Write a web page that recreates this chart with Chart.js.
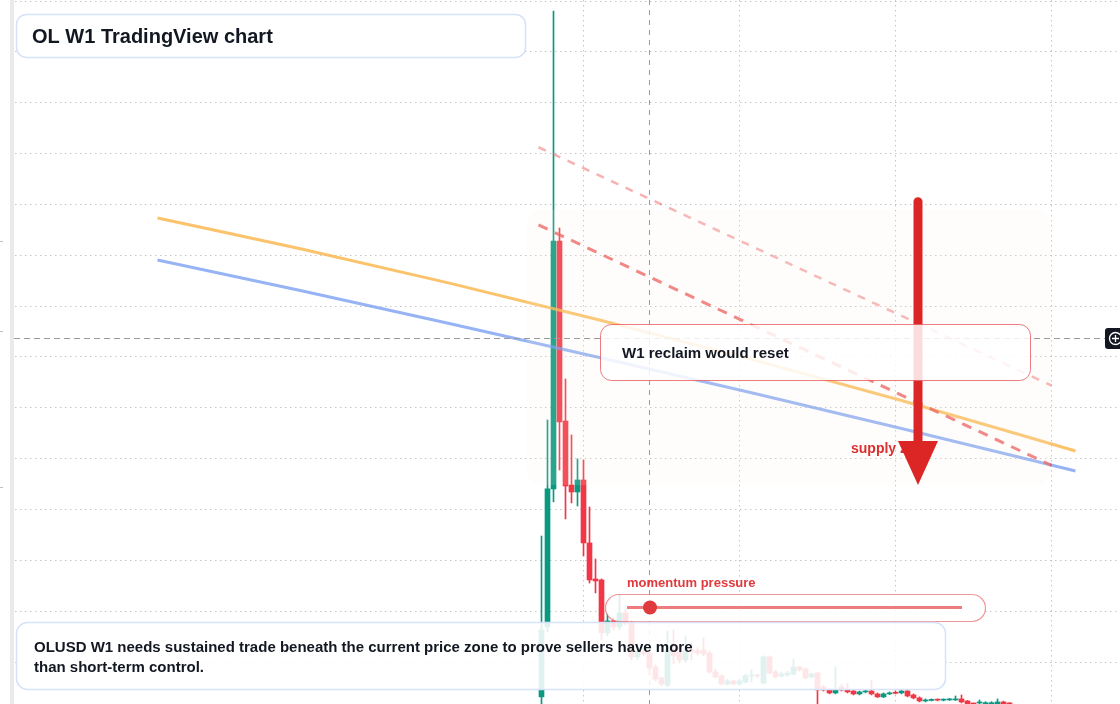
<!DOCTYPE html>
<html><head><meta charset="utf-8">
<script src="https://cdn.jsdelivr.net/npm/chart.js@4.4.1/dist/chart.umd.min.js"></script>
<style>html,body{margin:0;padding:0;background:#fff;overflow:hidden}#wrap{position:relative;width:1120px;height:704px}</style>
</head><body><div id="wrap"><canvas id="c" width="1120" height="704"></canvas></div>
<script>
// ---- weekly OHLC (OLUSD W1), candle index = week number ----
const OPEN  = [0.0157,0.0845,0.2202,0.4640,0.2870,0.2241,0.2172,0.2290,0.1671,0.1317,0.1307,0.0786,0.0904,0.0845,0.0982,0.0884,0.0550,0.0599,0.0589,0.0451,0.0343,0.0274,0.0618,0.0600,0.0520,0.0618,0.0610,0.0618,0.0589,0.0402,0.0363,0.0284,0.0314,0.0284,0.0304,0.0363,0.0373,0.0294,0.0550,0.0402,0.0363,0.0373,0.0382,0.0451,0.0432,0.0353,0.0392,0.0255,0.0225,0.0196,0.0255,0.0225,0.0215,0.0186,0.0206,0.0215,0.0186,0.0157,0.0186,0.0200,0.0196,0.0215,0.0176,0.0147,0.0117,0.0122,0.0132,0.0125,0.0127,0.0127,0.0137,0.0117,0.0092,0.0097,0.0090,0.0090,0.0087,0.0107,0.0095];
const HIGH  = [0.1739,0.2880,0.6902,0.4768,0.3283,0.2733,0.2497,0.2487,0.2024,0.1513,0.1317,0.0982,0.0933,0.1159,0.1012,0.0904,0.0648,0.0630,0.0618,0.0471,0.0353,0.0805,0.0815,0.0660,0.0756,0.0687,0.0640,0.0736,0.0610,0.0432,0.0373,0.0330,0.0320,0.0330,0.0382,0.0422,0.0382,0.0560,0.0560,0.0420,0.0402,0.0410,0.0530,0.0460,0.0440,0.0392,0.0402,0.0270,0.0240,0.0451,0.0280,0.0294,0.0225,0.0215,0.0225,0.0323,0.0196,0.0196,0.0206,0.0215,0.0225,0.0225,0.0186,0.0157,0.0137,0.0137,0.0137,0.0137,0.0142,0.0166,0.0176,0.0122,0.0097,0.0127,0.0110,0.0110,0.0137,0.0115,0.0100];
const LOW   = [0.0050,0.0800,0.2074,0.2388,0.1907,0.2064,0.2034,0.1543,0.1277,0.1179,0.0717,0.0756,0.0815,0.0815,0.0865,0.0520,0.0520,0.0560,0.0373,0.0314,0.0265,0.0255,0.0481,0.0491,0.0500,0.0520,0.0570,0.0560,0.0390,0.0343,0.0274,0.0274,0.0274,0.0274,0.0294,0.0304,0.0343,0.0284,0.0382,0.0343,0.0353,0.0360,0.0373,0.0410,0.0333,0.0343,0.0050,0.0215,0.0186,0.0186,0.0215,0.0196,0.0176,0.0176,0.0196,0.0176,0.0150,0.0150,0.0180,0.0186,0.0186,0.0157,0.0137,0.0107,0.0107,0.0117,0.0117,0.0117,0.0122,0.0122,0.0097,0.0080,0.0080,0.0087,0.0085,0.0085,0.0080,0.0085,0.0080];
const CLOSE = [0.0815,0.2202,0.4640,0.2860,0.2231,0.2172,0.2290,0.1671,0.1307,0.1297,0.0786,0.0904,0.0845,0.0982,0.0884,0.0550,0.0599,0.0580,0.0441,0.0333,0.0284,0.0618,0.0560,0.0520,0.0618,0.0600,0.0590,0.0580,0.0402,0.0353,0.0284,0.0314,0.0284,0.0314,0.0363,0.0373,0.0363,0.0550,0.0392,0.0353,0.0382,0.0392,0.0451,0.0422,0.0343,0.0382,0.0225,0.0225,0.0196,0.0225,0.0225,0.0206,0.0186,0.0206,0.0215,0.0186,0.0157,0.0186,0.0196,0.0192,0.0215,0.0166,0.0147,0.0117,0.0127,0.0132,0.0125,0.0132,0.0132,0.0132,0.0107,0.0087,0.0087,0.0107,0.0100,0.0100,0.0107,0.0090,0.0088];

// moving-average style curves (week index, price)
const MA_X      = [-64, -40, -15, 10, 35, 60, 89];
const MA_ORANGE = [0.4866, 0.4562, 0.4221, 0.3859, 0.3476, 0.3072, 0.2575];
const MA_BLUE   = [0.4453, 0.4151, 0.3824, 0.3490, 0.3148, 0.2797, 0.2379];

// dashed descending trend lines
const TREND_X     = [-0.5, 85];
const TREND_UPPER = [0.5562, 0.3219];
const TREND_LOWER = [0.4798, 0.2433];

// supply zone, arrow, crosshair
const ZONE_X = [-2.4, 84.75];
const ZONE_Y = [0.2241, 0.4945];
const ARROW_X = 62.75;
const ARROW_FROM = 0.5027;
const ARROW_TO = 0.2241;
const CROSS_X = 17.9;
const CROSS_Y = 0.3686;

// axis ticks (grid)
const GRID_PRICES = [0.05,0.10,0.15,0.20,0.25,0.30,0.35,0.40,0.45,0.50,0.55,0.60,0.65,0.70];
const TIME_TICKS = [7, 33, 59, 85];

const UP = '#089981', DOWN = '#f23645';
const WEEKS = OPEN.map((_, i) => i);
const colors = WEEKS.map(i => CLOSE[i] >= OPEN[i] ? UP : DOWN);

const FONT = '"Liberation Sans", Arial, Helvetica, sans-serif';

function rr(ctx, x, y, w, h, r) {
  ctx.beginPath();
  ctx.moveTo(x + r, y);
  ctx.lineTo(x + w - r, y);
  ctx.arcTo(x + w, y, x + w, y + r, r);
  ctx.lineTo(x + w, y + h - r);
  ctx.arcTo(x + w, y + h, x + w - r, y + h, r);
  ctx.lineTo(x + r, y + h);
  ctx.arcTo(x, y + h, x, y + h - r, r);
  ctx.lineTo(x, y + r);
  ctx.arcTo(x, y, x + r, y, r);
  ctx.closePath();
}

const overlay = {
  id: 'overlay',
  afterDatasetsDraw(chart) {
    const ctx = chart.ctx, xs = chart.scales.x, ys = chart.scales.y;
    ctx.save();
    // supply zone tint
    const zx0 = xs.getPixelForValue(ZONE_X[0]), zx1 = xs.getPixelForValue(ZONE_X[1]);
    const zy0 = ys.getPixelForValue(ZONE_Y[1]), zy1 = ys.getPixelForValue(ZONE_Y[0]);
    rr(ctx, zx0, zy0, zx1 - zx0, zy1 - zy0, 14);
    ctx.fillStyle = 'rgba(250,238,228,0.14)';
    ctx.fill();

    // crosshair
    const cx = Math.round(xs.getPixelForValue(CROSS_X)) + 0.5;
    const cy = Math.round(ys.getPixelForValue(CROSS_Y)) + 0.5;
    ctx.strokeStyle = '#9a9a9a'; ctx.lineWidth = 1; ctx.setLineDash([6, 4]);
    ctx.beginPath(); ctx.moveTo(14, cy); ctx.lineTo(1105, cy); ctx.stroke();
    ctx.setLineDash([5, 5]);
    ctx.beginPath(); ctx.moveTo(cx, 0); ctx.lineTo(cx, 704); ctx.stroke();
    ctx.setLineDash([]);

    // supply zone label
    ctx.fillStyle = '#dc2f2f';
    ctx.font = 'bold 14px ' + FONT;
    ctx.textBaseline = 'middle'; ctx.textAlign = 'left';
    ctx.fillText('supply zone', 851, 449);

    // arrow
    const ax = xs.getPixelForValue(ARROW_X);
    const ay0 = ys.getPixelForValue(ARROW_FROM), ay1 = ys.getPixelForValue(ARROW_TO);
    ctx.strokeStyle = '#dc2626'; ctx.fillStyle = '#dc2626';
    ctx.lineWidth = 9; ctx.lineCap = 'round';
    ctx.beginPath(); ctx.moveTo(ax, ay0); ctx.lineTo(ax, ay1 - 40); ctx.stroke();
    ctx.lineCap = 'butt';
    ctx.beginPath(); ctx.moveTo(ax - 20, ay1 - 44); ctx.lineTo(ax + 20, ay1 - 44); ctx.lineTo(ax, ay1); ctx.closePath(); ctx.fill();

    // W1 reclaim box
    rr(ctx, 600.5, 324.5, 430, 56, 11);
    ctx.fillStyle = 'rgba(255,255,255,0.84)'; ctx.fill();
    ctx.strokeStyle = 'rgba(232,80,84,0.75)'; ctx.lineWidth = 1; ctx.stroke();
    ctx.fillStyle = '#131722'; ctx.font = 'bold 15px ' + FONT;
    ctx.fillText('W1 reclaim would reset', 622, 354);

    // momentum pressure widget
    ctx.fillStyle = '#e03a3e'; ctx.font = 'bold 13px ' + FONT;
    ctx.fillText('momentum pressure', 627, 583);
    rr(ctx, 605.5, 594.5, 380, 27, 13.5);
    ctx.fillStyle = 'rgba(255,255,255,0.85)'; ctx.fill();
    ctx.strokeStyle = 'rgba(232,80,84,0.6)'; ctx.lineWidth = 1.2; ctx.stroke();
    ctx.strokeStyle = 'rgba(232,80,84,0.75)'; ctx.lineWidth = 3;
    ctx.beginPath(); ctx.moveTo(627, 607.5); ctx.lineTo(962, 607.5); ctx.stroke();
    ctx.fillStyle = '#e03a3e';
    ctx.beginPath(); ctx.arc(650, 607.5, 7, 0, Math.PI * 2); ctx.fill();

    // bottom note
    rr(ctx, 16.5, 622.5, 929, 67, 11);
    ctx.fillStyle = 'rgba(255,255,255,0.87)'; ctx.fill();
    ctx.strokeStyle = '#d5e2fa'; ctx.lineWidth = 1.5; ctx.stroke();
    ctx.fillStyle = '#131722'; ctx.font = 'bold 15px ' + FONT;
    ctx.fillText('OLUSD W1 needs sustained trade beneath the current price zone to prove sellers have more', 34, 648);
    ctx.fillText('than short-term control.', 34, 668);

    // title
    rr(ctx, 16.5, 14.5, 509, 43, 10);
    ctx.fillStyle = 'rgba(255,255,255,0.92)'; ctx.fill();
    ctx.strokeStyle = '#d5e2fa'; ctx.lineWidth = 1.5; ctx.stroke();
    ctx.fillStyle = '#131722'; ctx.font = 'bold 20px ' + FONT;
    ctx.fillText('OL W1 TradingView chart', 32, 37);

    // left price-axis strip remnant
    ctx.fillStyle = '#ffffff'; ctx.fillRect(0, 0, 10, 704);
    ctx.fillStyle = '#eaeaea'; ctx.fillRect(10, 0, 4, 704);
    ctx.strokeStyle = '#c0c0c0'; ctx.lineWidth = 1;
    [241, 331, 487].forEach(y => { ctx.beginPath(); ctx.moveTo(0, y + 0.5); ctx.lineTo(3, y + 0.5); ctx.stroke(); });

    // crosshair plus button at right
    rr(ctx, 1105, 328, 20, 21, 3);
    ctx.fillStyle = '#131722'; ctx.fill();
    ctx.strokeStyle = '#ffffff'; ctx.lineWidth = 1.3;
    ctx.beginPath(); ctx.arc(1115.5, 338.5, 6, 0, Math.PI * 2); ctx.stroke();
    ctx.beginPath(); ctx.moveTo(1112, 338.5); ctx.lineTo(1119, 338.5); ctx.moveTo(1115.5, 335); ctx.lineTo(1115.5, 342); ctx.stroke();
    ctx.restore();
  }
};

new Chart(document.getElementById('c'), {
  type: 'bar',
  data: {
    datasets: [
      { type: 'bar', label: 'wick', order: 6, data: WEEKS.map(i => ({ x: i, y: [LOW[i], HIGH[i]] })),
        backgroundColor: colors, barThickness: 1, grouped: false, borderWidth: 0 },
      { type: 'bar', label: 'body', order: 5, data: WEEKS.map(i => ({ x: i, y: [OPEN[i], CLOSE[i]] })),
        backgroundColor: colors, barThickness: 5, grouped: false, borderWidth: 0, minBarLength: 1 },
      { type: 'line', label: 'MA orange', order: 4, data: MA_X.map((x, i) => ({ x, y: MA_ORANGE[i] })),
        borderColor: 'rgba(250,180,70,0.8)', borderWidth: 3, pointRadius: 0, cubicInterpolationMode: 'monotone' },
      { type: 'line', label: 'MA blue', order: 3, data: MA_X.map((x, i) => ({ x, y: MA_BLUE[i] })),
        borderColor: 'rgba(110,150,240,0.72)', borderWidth: 3, pointRadius: 0, cubicInterpolationMode: 'monotone' },
      { type: 'line', label: 'trend upper', order: 2, data: TREND_X.map((x, i) => ({ x, y: TREND_UPPER[i] })),
        borderColor: 'rgba(238,100,100,0.5)', borderWidth: 2.5, borderDash: [8, 8], pointRadius: 0 },
      { type: 'line', label: 'trend lower', order: 1, data: TREND_X.map((x, i) => ({ x, y: TREND_LOWER[i] })),
        borderColor: 'rgba(235,85,85,0.8)', borderWidth: 3, borderDash: [10, 8], pointRadius: 0 }
    ]
  },
  options: {
    responsive: false, animation: false, devicePixelRatio: 1,
    layout: { padding: 0 },
    plugins: { legend: { display: false }, tooltip: { enabled: false } },
    scales: {
      x: { type: 'linear', offset: false, min: -90.25, max: 96.4167,
        afterBuildTicks: s => { s.ticks = TIME_TICKS.map(v => ({ value: v })); },
        ticks: { display: false }, grid: { color: '#c6c6c6', lineWidth: 1, drawTicks: false, offset: false },
        border: { display: false, dash: [1.5, 3.5] } },
      y: { type: 'linear', min: 0.0087, max: 0.701,
        afterBuildTicks: s => { s.ticks = GRID_PRICES.map(v => ({ value: v })); },
        ticks: { display: false }, grid: { color: '#c6c6c6', lineWidth: 1, drawTicks: false, offset: false },
        border: { display: false, dash: [1.5, 3.5] } }
    }
  },
  plugins: [overlay]
});
</script>
</body></html>
